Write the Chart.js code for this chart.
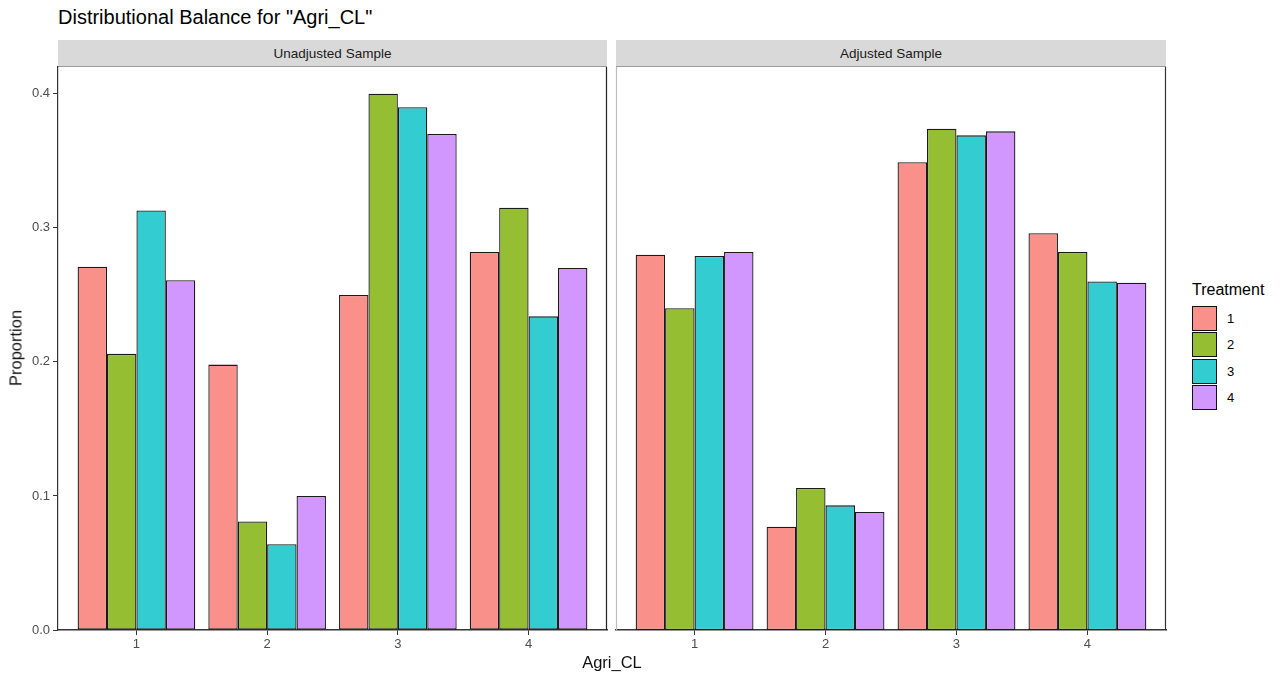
<!DOCTYPE html>
<html>
<head>
<meta charset="utf-8">
<script src="https://cdn.jsdelivr.net/npm/chart.js@4/dist/chart.umd.min.js"></script>
<style>
  body { margin: 0; background: #fff; font-family: "Liberation Sans", Arial, sans-serif; }
  #page { position: relative; width: 1283px; height: 675px; overflow: hidden; }
  .abs { position: absolute; }
  #title { left: 58px; top: 6px; font-size: 20px; color: #000; white-space: nowrap; }
  .strip { top: 40px; height: 27px; background: #d9d9d9; border-bottom: 1px solid #9a9a9a; box-sizing: border-box;
           font-size: 13.5px; color: #1a1a1a; text-align: center; line-height: 27px; }
  #ytitle { left: 16px; top: 348px; font-size: 16.5px; color: #111; transform: translate(-50%, -50%) rotate(-90deg); white-space: nowrap; }
  #xtitle { left: 612px; top: 653px; font-size: 16.5px; color: #111; transform: translateX(-50%); white-space: nowrap; }
  #legend { left: 1192px; top: 281px; }
  #legend .lt { font-size: 16px; color: #000; margin-bottom: 6px; white-space: nowrap; }
  #legend .row { display: flex; align-items: center; height: 26.5px; }
  #legend .key { width: 25px; height: 25px; border: 1.5px solid #111; box-sizing: border-box; }
  #legend .lab { font-size: 13px; color: #000; margin-left: 10px; }
</style>
</head>
<body>
<div id="page">
  <div id="title" class="abs">Distributional Balance for "Agri_CL"</div>
  <div class="abs strip" style="left:58px;width:549px;">Unadjusted Sample</div>
  <div class="abs strip" style="left:616px;width:550px;">Adjusted Sample</div>
  <canvas id="c1" class="abs" width="612" height="675" style="left:0;top:0;"></canvas>
  <canvas id="c2" class="abs" width="556" height="675" style="left:612px;top:0;"></canvas>
  <div id="ytitle" class="abs">Proportion</div>
  <div id="xtitle" class="abs">Agri_CL</div>
  <div id="legend" class="abs"></div>
</div>
<script>
// categories and treatment levels
var categories = [1, 2, 3, 4];
var treatments = ['1', '2', '3', '4'];
var yTicks = [0, 0.1, 0.2, 0.3, 0.4];

// proportions, unadjusted sample (one array per treatment)
var unadj1 = [0.271, 0.198, 0.250, 0.282];
var unadj2 = [0.206, 0.081, 0.400, 0.315];
var unadj3 = [0.313, 0.064, 0.390, 0.234];
var unadj4 = [0.261, 0.100, 0.370, 0.270];

// proportions, adjusted sample
var adj1 = [0.280, 0.077, 0.349, 0.296];
var adj2 = [0.240, 0.106, 0.374, 0.282];
var adj3 = [0.279, 0.093, 0.369, 0.260];
var adj4 = [0.282, 0.088, 0.372, 0.259];

var colors = ['#f9918a', '#96be33', '#33ccd0', '#d296ff'];

var FONT = '"Liberation Sans", Arial, sans-serif';

function makeDatasets(series) {
    return series.map(function(vals, i) {
        return {
            label: treatments[i],
            data: categories.map(function(c, j) { return { x: c, y: vals[j] }; }),
            backgroundColor: colors[i],
            borderColor: '#1a1a1a',
            borderWidth: 1.3,
            borderSkipped: false,
            categoryPercentage: 0.9,
            barPercentage: 1.0
        };
    });
}

// draws the panel edges that the axes don't cover
var panelFrame = {
    id: 'panelFrame',
    afterDraw: function(chart, args, opts) {
        var a = chart.chartArea, ctx = chart.ctx;
        ctx.save();
        ctx.lineWidth = 1.2;
        if (opts.left) {
            ctx.strokeStyle = opts.left;
            ctx.beginPath(); ctx.moveTo(a.left + 0.5, a.top); ctx.lineTo(a.left + 0.5, a.bottom); ctx.stroke();
        }
        ctx.strokeStyle = opts.right || '#333';
        ctx.beginPath(); ctx.moveTo(a.right - 0.5, a.top); ctx.lineTo(a.right - 0.5, a.bottom); ctx.stroke();
        ctx.restore();
    }
};

function buildChart(id, series, showY, padding, frame) {
    return new Chart(document.getElementById(id), {
        type: 'bar',
        data: { datasets: makeDatasets(series) },
        plugins: [panelFrame],
        options: {
            responsive: false,
            animation: false,
            layout: { padding: padding },
            plugins: {
                legend: { display: false },
                tooltip: { enabled: false },
                panelFrame: frame
            },
            scales: {
                x: {
                    type: 'linear',
                    min: 0.4,
                    max: 4.6,
                    offset: false,
                    afterBuildTicks: function(s) { s.ticks = categories.map(function(v) { return { value: v }; }); },
                    afterFit: function(s) { s.height = 45; },
                    grid: { offset: false, drawOnChartArea: false, drawTicks: true, tickLength: 5, color: '#333' },
                    border: { display: true, color: '#333', width: 1.5 },
                    ticks: { color: '#4d4d4d', font: { family: FONT, size: 13 }, padding: 2,
                             callback: function(v) { return String(v); } }
                },
                y: {
                    display: showY,
                    min: 0,
                    max: 0.42,
                    afterBuildTicks: function(s) { s.ticks = yTicks.map(function(v) { return { value: v }; }); },
                    afterFit: function(s) { s.width = showY ? 58 : 0; },
                    grid: { drawOnChartArea: false, drawTicks: true, tickLength: 5, color: '#333' },
                    border: { display: true, color: '#333', width: 1.2 },
                    ticks: { color: '#4d4d4d', font: { family: FONT, size: 13 }, padding: 3,
                             callback: function(v) { return v.toFixed(1); } }
                }
            }
        }
    });
}

buildChart('c1', [unadj1, unadj2, unadj3, unadj4], true,
    { top: 67, left: 0, right: 5, bottom: 0 }, { right: '#222' });
buildChart('c2', [adj1, adj2, adj3, adj4], false,
    { top: 67, left: 4, right: 2, bottom: 0 }, { left: '#bdbdbd', right: '#333' });

// legend in the ggplot style
var legend = document.getElementById('legend');
var html = '<div class="lt">Treatment</div>';
treatments.forEach(function(t, i) {
    html += '<div class="row"><div class="key" style="background:' + colors[i] + '"></div><div class="lab">' + t + '</div></div>';
});
legend.innerHTML = html;
</script>
</body>
</html>
